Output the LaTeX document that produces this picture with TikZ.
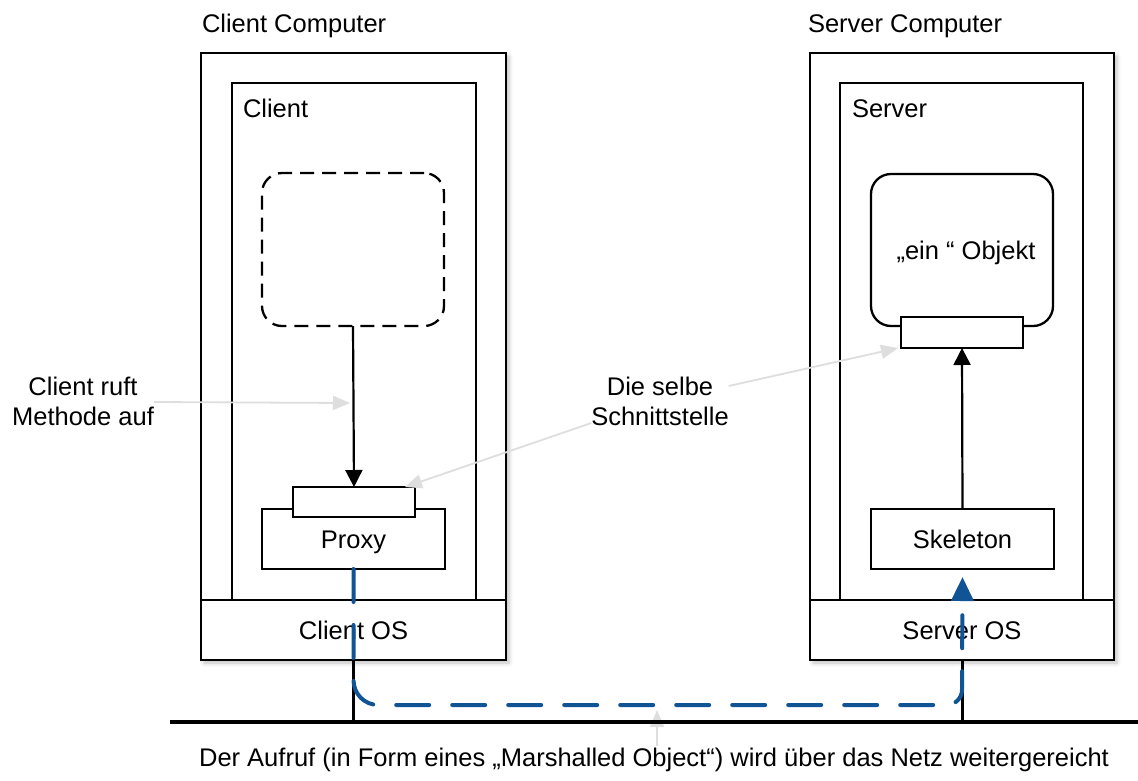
\documentclass[tikz,border=0pt]{standalone}
\usepackage{fontspec}
\setmainfont{Liberation Sans}
\usetikzlibrary{arrows.meta,shadows.blur}
\definecolor{netblue}{RGB}{16,84,150}
\definecolor{hintgray}{RGB}{222,222,222}

\begin{document}
\begin{tikzpicture}[x=1pt,y=-1pt,
  every node/.style={font=\fontsize{25.5pt}{30pt}\selectfont, inner sep=0pt, outer sep=0pt},
  label/.style={anchor=base west},
  frame/.style={draw, line width=2.8pt, fill=white,
    blur shadow={shadow xshift=3pt, shadow yshift=-3pt, shadow blur radius=4pt, shadow opacity=25}},
  process/.style={draw, line width=2.6pt},
  part/.style={draw, line width=2.3pt, fill=white, text height=18.3pt, text depth=0pt},
  call/.style={line width=2.2pt, -{Triangle[length=17pt,width=17pt]}},
  hint/.style={draw=hintgray, line width=1.8pt, -{Triangle[length=17pt,width=14pt,fill=hintgray]}},
  msg/.style={draw=netblue, line width=4pt, line cap=round, dash pattern=on 33pt off 23pt,
    -{Triangle[length=24pt,width=22pt,fill=netblue]}},
  wire/.style={line width=3pt},
]
\useasboundingbox (0,0) rectangle (1138,780);

% ---------- client side ----------
\node[label] (ctitle) at (202,32) {Client Computer};
\node[frame, minimum width=305pt, minimum height=607pt] (cpc) at (353.5,356.5) {};
\node[process, minimum width=244pt, minimum height=517pt] (cproc) at (354,341.5) {};
\node[part, minimum width=305pt, minimum height=60pt] (cos) at (353.5,630) {Client OS};
\node[label] (cname) at (243,117) {Client};
\node[draw, dash pattern=on 14pt off 8pt, line width=2.3pt, rounded corners=20pt, minimum width=182pt, minimum height=153pt] (caller) at (353,249.5) {};
\node[part, minimum width=183pt, minimum height=60pt] (proxy) at (353.5,539) {Proxy};
\node[part, minimum width=122pt, minimum height=30pt] (cif) at (354,502) {};

% ---------- server side ----------
\node[label] (stitle) at (808,32) {Server Computer};
\node[frame, minimum width=304pt, minimum height=607pt] (spc) at (962,356.5) {};
\node[process, minimum width=243pt, minimum height=517pt] (sproc) at (961.5,341.5) {};
\node[part, minimum width=304pt, minimum height=60pt] (sos) at (962,630) {Server OS};
\node[label] (sname) at (852,117) {Server};
\node[part, rounded corners=20pt, minimum width=182pt, minimum height=152pt] (obj) at (962,250) {\hspace*{8pt}„ein “ Objekt};
\node[part, minimum width=122pt, minimum height=31pt] (sif) at (962,332.5) {};
\node[part, minimum width=183pt, minimum height=60pt] (skel) at (962.5,539) {Skeleton};

% ---------- calls inside the processes ----------
\draw[call] (caller.south) -- (cif.north);
\draw[call] (skel.north) -- (sif.south);

% ---------- annotations ----------
\node[align=center] (callnote) at (83,401) {Client ruft\\Methode auf};
\coordinate (callpt) at (350,403);
\draw[hint] ([yshift=-1pt]callnote.east) -- (callpt);

\node[align=center] (ifnote) at (660,401) {Die selbe\\Schnittstelle};
\draw[hint] ([yshift=15pt]ifnote.east) -- ([xshift=-3pt]sif.south west);
\draw[hint] ([yshift=-22pt]ifnote.west) -- ([xshift=-10pt]cif.north east);

\node[anchor=base] (netnote) at (654,766) {Der Aufruf (in Form eines „Marshalled Object“) wird über das Netz weitergereicht};
\coordinate (nettip) at (657,710);
\draw[hint] ([yshift=2pt]netnote.north -| nettip) -- (nettip);

% ---------- network ----------
\coordinate (netL) at (170,722);
\coordinate (netR) at (1138,722);
\coordinate (ctap) at (353.5,722);
\coordinate (stap) at (962,722);
\draw[wire] (cos.south) -- (ctap);
\draw[wire] (sos.south) -- (stap);
\draw[line width=4pt] (netL) -- (netR);

% ---------- marshalled call travelling over the net ----------
\coordinate (bl) at (353.5,705);
\coordinate (br) at (962,705);
\draw[msg] (proxy.south) -- ([yshift=25pt]bl)
  .. controls ([yshift=11pt]bl) and ([xshift=11pt]bl) .. ([xshift=25pt]bl)
  -- ([xshift=-15pt]br)
  .. controls ([xshift=-7pt]br) and ([yshift=7pt]br) .. ([yshift=15pt]br)
  -- ([yshift=-8pt]skel.south);
\end{tikzpicture}
\end{document}
